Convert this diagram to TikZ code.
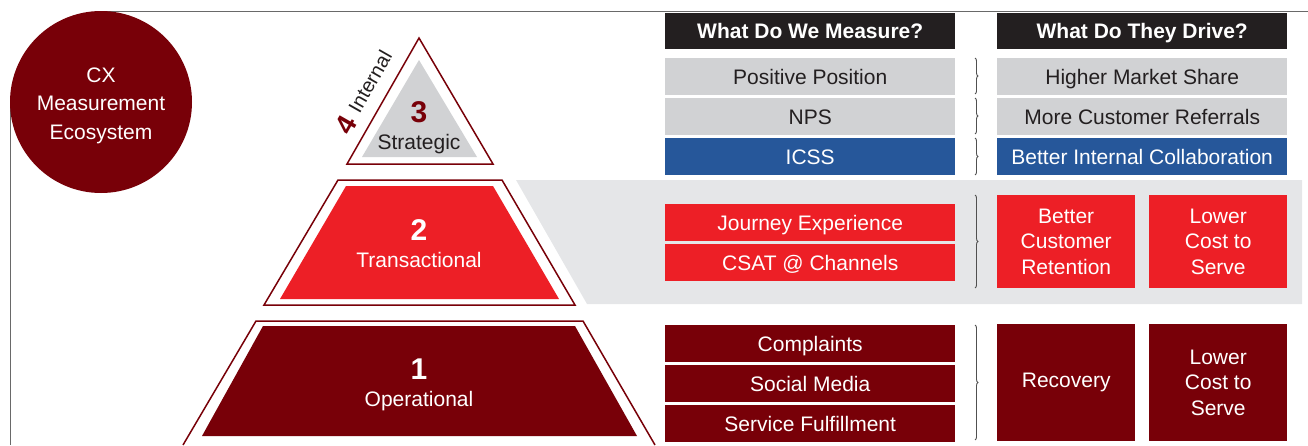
\documentclass[tikz,border=0pt]{standalone}
\usepackage{fontspec}
\setmainfont{Liberation Sans}
\usetikzlibrary{decorations.pathreplacing}
\definecolor{dred}{RGB}{120,0,8}
\definecolor{bred}{RGB}{237,31,38}
\definecolor{lgray}{RGB}{209,210,212}
\definecolor{bandgray}{RGB}{229,230,232}
\definecolor{bblue}{RGB}{38,87,154}
\definecolor{hblack}{RGB}{35,31,32}
\definecolor{tdark}{RGB}{35,31,32}
\definecolor{framegray}{RGB}{105,105,105}
\definecolor{bracegray}{RGB}{80,80,80}
\begin{document}
\begin{tikzpicture}[x=1pt,y=-1pt,
  cell/.style={anchor=north west, inner sep=0pt, minimum width=290pt, minimum height=37pt,
    text height=15pt, text depth=0pt, font=\fontsize{21}{25}\selectfont},
  headcell/.style={cell, fill=hblack, text=white, minimum height=36pt, font=\fontsize{21}{25}\selectfont\bfseries},
  graycell/.style={cell, fill=lgray, text=tdark},
  bluecell/.style={cell, fill=bblue, text=white},
  redcell/.style={cell, fill=bred, text=white},
  darkcell/.style={cell, fill=dred, text=white},
  bigcell/.style={anchor=north west, inner sep=0pt, minimum width=138pt, text=white, align=center,
    font=\fontsize{21}{25.5}\selectfont},
  brc/.style={draw=bracegray, line width=0.9pt, decorate, decoration={brace, amplitude=3pt}},
  outline/.style={draw=dred, line width=1.5pt, fill=white, line join=miter},
  digit/.style={font=\fontsize{30}{30}\selectfont\bfseries},
  tierlabel/.style={anchor=base, font=\fontsize{21}{25}\selectfont}
]
\useasboundingbox (0,0) rectangle (1308,445);

% frame lines
\coordinate (ftop) at (101,11.5);
\coordinate (ftopr) at (1308,11.5);
\coordinate (fleft) at (10.5,102);
\coordinate (fleftb) at (10.5,445);
\draw[framegray, line width=1.2pt] (ftop) -- (ftopr);
\draw[framegray, line width=1.2pt] (fleft) -- (fleftb);

% circle
\fill[dred] (101,102) circle (91);
\node[align=center, text=white, font=\fontsize{21}{28.5}\selectfont] (cx) at (101,105.5) {CX\\Measurement\\Ecosystem};

% band behind tier 2
\fill[bandgray] (516,180) -- (1302,180) -- (1302,304) -- (587,304) -- cycle;

% tier 3 triangle
\draw[outline] (347,164) -- (419,38) -- (493,164) -- cycle;
\fill[lgray] (362,157) -- (419,60) -- (477,157) -- cycle;
\node[digit, text=dred] (t3) at (419,112.5) {3};
\node[tierlabel, text=tdark] (t3l) at (419,149) {Strategic};
\node[rotate=60.3, inner sep=0pt, font=\fontsize{20}{24}\selectfont, text=tdark] (int) at (370,81.5) {Internal};
\node[rotate=60.3, inner sep=0pt, font=\fontsize{28}{28}\selectfont\bfseries, text=dred] (four) at (346,125) {4};

% tier 2 trapezoid
\draw[outline] (264,305) -- (338,180) -- (502,180) -- (575,305) -- cycle;
\fill[bred] (280,299) -- (346,186) -- (493,186) -- (559,299) -- cycle;
\node[digit, text=white] (t2) at (419,230) {2};
\node[tierlabel, text=white] (t2l) at (419,267) {Transactional};

% tier 1 trapezoid
\fill[white] (183,445) -- (256,321) -- (583,321) -- (655,445) -- cycle;
\draw[dred, line width=1.5pt] (183,445) -- (256,321) -- (583,321) -- (655,445);
\fill[dred] (202,436) -- (263,326) -- (575,326) -- (637,436) -- cycle;
\node[digit, text=white] (t1) at (419,369) {1};
\node[tierlabel, text=white] (t1l) at (419,406) {Operational};

% headers
\node[headcell] (h1) at (665,13) {What Do We Measure?};
\node[headcell] (h2) at (997,13) {What Do They Drive?};

% tier 3 rows
\node[graycell] (m1) at (665,58) {Positive Position};
\node[graycell] (m2) at (665,98) {NPS};
\node[bluecell] (m3) at (665,138) {ICSS};
\node[graycell] (d1) at (997,58) {Higher Market Share};
\node[graycell] (d2) at (997,98) {More Customer Referrals};
\node[bluecell] (d3) at (997,138) {Better Internal Collaboration};

% tier 2 rows
\node[redcell] (m4) at (665,204) {Journey Experience};
\node[redcell] (m5) at (665,244) {CSAT @ Channels};
\node[bigcell, fill=bred, minimum height=93pt] (d4) at (997,195) {Better\\Customer\\Retention};
\node[bigcell, fill=bred, minimum height=93pt] (d5) at (1149,195) {Lower\\Cost to\\Serve};

% tier 1 rows
\node[darkcell] (m6) at (665,325) {Complaints};
\node[darkcell] (m7) at (665,365) {Social Media};
\node[darkcell] (m8) at (665,405) {Service Fulfillment};
\node[bigcell, fill=dred, minimum height=117pt] (d6) at (997,324) {Recovery};
\node[bigcell, fill=dred, minimum height=117pt] (d7) at (1149,324) {Lower\\Cost to\\Serve};

% braces
\coordinate (b1t) at (975,58);  \coordinate (b1b) at (975,94);
\coordinate (b2t) at (975,98);  \coordinate (b2b) at (975,134);
\coordinate (b3t) at (975,138); \coordinate (b3b) at (975,175);
\coordinate (b4t) at (975,195); \coordinate (b4b) at (975,288);
\coordinate (b5t) at (975,325); \coordinate (b5b) at (975,440);
\draw[brc] (b1t) -- (b1b);
\draw[brc] (b2t) -- (b2b);
\draw[brc] (b3t) -- (b3b);
\draw[brc] (b4t) -- (b4b);
\draw[brc] (b5t) -- (b5b);
\end{tikzpicture}
\end{document}
